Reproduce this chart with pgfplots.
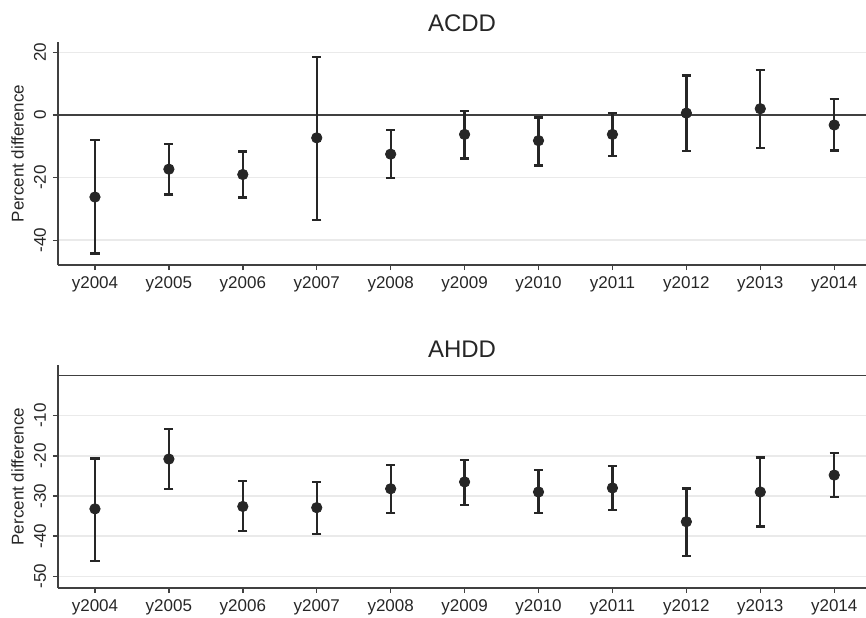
\documentclass[border=0pt]{standalone}
\usepackage{fontspec}
\setmainfont{Liberation Sans}
\usepackage{pgfplots}
\pgfplotsset{compat=1.18}
\usepackage{pgfplotstable}

\definecolor{ink}{HTML}{262626}
\definecolor{axisgray}{HTML}{404040}
\definecolor{gridgray}{HTML}{EAEAEA}

% x = year index (1 = y2004), y = estimate, lo/hi = confidence limits
\pgfplotstableread{
x  y      lo     hi
1  -26.2  -44.2  -7.9
2  -17.3  -25.4  -9.3
3  -19.0  -26.3  -11.7
4  -7.3   -33.5  18.6
5  -12.5  -20.1  -4.7
6  -6.2   -13.9  1.3
7  -8.2   -16.1  -0.8
8  -6.2   -13.0  0.6
9  0.6    -11.5  12.6
10 2.0    -10.5  14.4
11 -3.2   -11.3  5.2
}\acdd

\pgfplotstableread{
x  y      lo     hi
1  -33.2  -46.1  -20.7
2  -20.8  -28.2  -13.3
3  -32.6  -38.7  -26.3
4  -32.9  -39.5  -26.5
5  -28.2  -34.2  -22.2
6  -26.5  -32.3  -21.0
7  -29.0  -34.2  -23.6
8  -28.0  -33.4  -22.5
9  -36.4  -44.9  -28.1
10 -29.0  -37.6  -20.4
11 -24.8  -30.2  -19.3
}\ahdd

\pgfplotsset{
  panel/.style={
    width=404pt, height=111.5pt, scale only axis,
    anchor=south west,
    xmin=0.5, xmax=11.43,
    axis x line*=bottom, axis y line*=left,
    axis line style={axisgray, line width=0.8pt},
    tick align=outside, major tick length=2.5pt,
    tick style={axisgray, line width=0.7pt},
    xtick={1,...,11},
    xticklabels={y2004,y2005,y2006,y2007,y2008,y2009,y2010,y2011,y2012,y2013,y2014},
    ymajorgrids, grid style={gridgray, line width=0.8pt},
    ticklabel style={font=\fontsize{8.5}{10}\selectfont, text=ink},
    yticklabel style={rotate=90, anchor=south},
    /pgf/number format/assume math mode=true,
    ylabel={Percent difference},
    every axis y label/.style={at={(axis description cs:0,0.5)}, xshift=-20.25pt,
      rotate=90, anchor=center, font=\fontsize{8.5}{10}\selectfont, text=ink},
    title style={font=\fontsize{12}{14}\selectfont, text=ink, at={(0.5,1)},
      anchor=base},
  },
  est/.style={only marks, mark=*, mark size=2.6pt, color=ink,
    error bars/.cd, y dir=both, y explicit,
    error bar style={line width=1.15pt, ink},
    error mark options={rotate=90, mark size=2.3pt, line width=1.15pt, ink}},
}

\begin{document}
\begin{tikzpicture}
\useasboundingbox (-29pt,-176pt) rectangle (404pt,132.5pt);

\begin{axis}[panel, at={(0,0)}, title={ACDD}, title style={yshift=-0.5pt},
  ymin=-47.9, ymax=23.3, ytick={-40,-20,20}, extra y ticks={0},
  extra y tick style={grid=none}]
\addplot[axisgray, line width=0.7pt, forget plot] coordinates {(0.5,0) (11.43,0)};
\addplot[est] table[x=x, y=y,
  y error plus expr=\thisrow{hi}-\thisrow{y},
  y error minus expr=\thisrow{y}-\thisrow{lo}] {\acdd};
\end{axis}

\begin{axis}[panel, at={(0,-161.5pt)}, title={AHDD}, title style={yshift=-2pt},
  ymin=-52.9, ymax=2.6, ytick={-50,-40,-30,-20,-10}]
\addplot[axisgray, line width=0.7pt, forget plot] coordinates {(0.5,0) (11.43,0)};
\addplot[est] table[x=x, y=y,
  y error plus expr=\thisrow{hi}-\thisrow{y},
  y error minus expr=\thisrow{y}-\thisrow{lo}] {\ahdd};
\end{axis}
\end{tikzpicture}
\end{document}
